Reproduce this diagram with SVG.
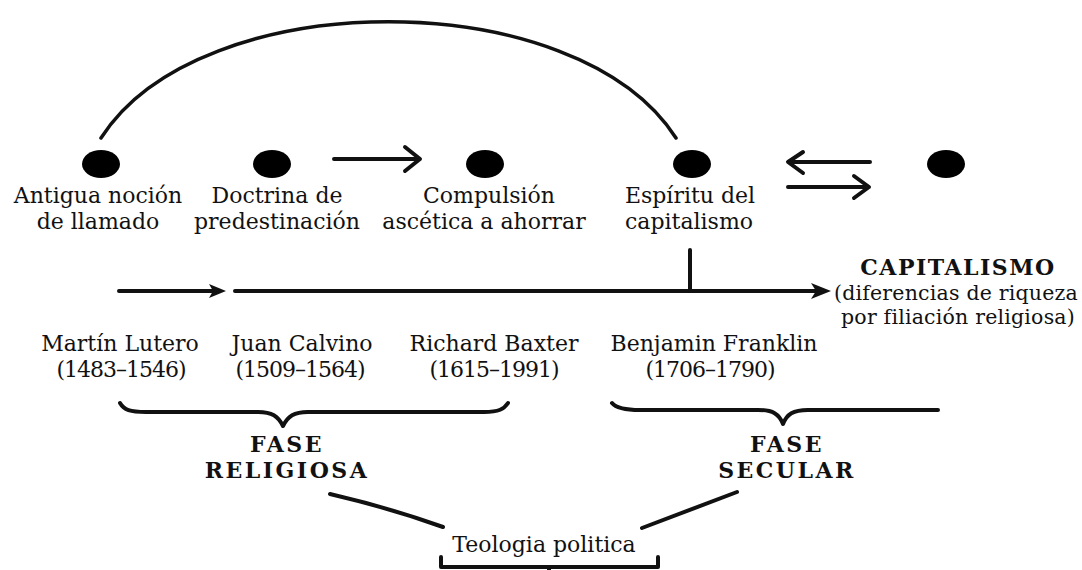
<svg xmlns="http://www.w3.org/2000/svg" width="1082" height="570" viewBox="0 0 1082 570">
  <style>
    .t { font-family: "DejaVu Serif", "Liberation Serif", serif; font-size: 22px; fill: #111; text-anchor: middle; }
    .d { letter-spacing: -1px; }
    .s { font-size: 20.5px; letter-spacing: 0.2px; }
    .b { font-family: "DejaVu Serif", "Liberation Serif", serif; font-size: 22px; font-weight: bold; fill: #111; text-anchor: middle; letter-spacing: 2.5px; }
    .dot { fill: #000; }
    .ln { fill: none; stroke: #111; stroke-width: 4; stroke-linecap: round; stroke-linejoin: round; }
    .arc { fill: none; stroke: #111; stroke-width: 3.5; stroke-linecap: round; }
    .head { fill: #111; }
  </style>
  <rect width="1082" height="570" fill="#fff"/>

  <g id="connectors">
    <path class="arc" d="M101,138 C200,-17 577,-17 676,138"/>
    <path class="ln" d="M334,159 L418,159 M405,147 L420,159 L405,171"/>
    <path class="ln" d="M870,162 L789,162 M803,152 L788,162 L803,173"/>
    <path class="ln" d="M788,187 L868,187 M854,176 L869,187 L854,198"/>
    <path class="ln" d="M690,250 L690,290"/>
    <path class="ln" d="M119,291 L214,291"/>
    <polygon class="head" points="226,291 209,284 213,291 209,298"/>
    <path class="ln" d="M235,291 L816,291"/>
    <polygon class="head" points="831,291 811,283 816,291 811,299"/>
    <path class="ln" d="M120,403 C124,410 130,412 146,412 L258,412 C272,412 278,416 283,426 C288,416 294,412 308,412 L484,412 C499,412 504,409 508,403"/>
    <path class="ln" d="M612,403 C616,408 624,410 640,410 L758,410 C773,410 779,414 783,424 C787,414 793,410 808,410 L938,410"/>
    <path class="ln" d="M330,494 Q390,508 443,527"/>
    <path class="ln" d="M642,528 Q690,510 737,492"/>
    <path class="ln" d="M441,557 L441,567 L658,567 L658,557 M549,567 L549,572"/>
  </g>

  <g id="n-antigua">
    <ellipse class="dot" cx="101" cy="164" rx="19" ry="14"/>
    <text class="t" x="98" y="203">Antigua noción</text>
    <text class="t" x="98" y="229">de llamado</text>
  </g>
  <g id="n-doctrina">
    <ellipse class="dot" cx="272" cy="164" rx="19" ry="14"/>
    <text class="t" x="277" y="203">Doctrina de</text>
    <text class="t" x="277" y="229">predestinación</text>
  </g>
  <g id="n-compulsion">
    <ellipse class="dot" cx="485" cy="164" rx="19" ry="14"/>
    <text class="t" x="489" y="203">Compulsión</text>
    <text class="t" x="484" y="229">ascética a ahorrar</text>
  </g>
  <g id="n-espiritu">
    <ellipse class="dot" cx="692" cy="164" rx="19" ry="14"/>
    <text class="t" x="690" y="203">Espíritu del</text>
    <text class="t" x="689" y="229">capitalismo</text>
  </g>
  <g id="n-dot5">
    <ellipse class="dot" cx="946" cy="164" rx="19" ry="14"/>
  </g>

  <g id="n-capitalismo">
    <text class="b" x="958" y="275" style="letter-spacing:1.5px">CAPITALISMO</text>
    <text class="t s" x="956" y="299.5">(diferencias de riqueza</text>
    <text class="t s" x="958" y="324">por filiación religiosa)</text>
  </g>

  <g id="n-lutero">
    <text class="t" x="120" y="351">Martín Lutero</text>
    <text class="t d" x="121" y="377">(1483–1546)</text>
  </g>
  <g id="n-calvino">
    <text class="t" x="302" y="351">Juan Calvino</text>
    <text class="t d" x="300" y="377">(1509–1564)</text>
  </g>
  <g id="n-baxter">
    <text class="t" x="494" y="351">Richard Baxter</text>
    <text class="t d" x="494" y="377">(1615–1991)</text>
  </g>
  <g id="n-franklin">
    <text class="t" x="714" y="351">Benjamin Franklin</text>
    <text class="t d" x="710" y="377">(1706–1790)</text>
  </g>

  <g id="n-fase-religiosa">
    <text class="b" x="287" y="452">FASE</text>
    <text class="b" x="287" y="478">RELIGIOSA</text>
  </g>
  <g id="n-fase-secular">
    <text class="b" x="787" y="452">FASE</text>
    <text class="b" x="787" y="478">SECULAR</text>
  </g>

  <g id="n-teologia">
    <text class="t" x="544" y="552">Teologia politica</text>
  </g>
</svg>
